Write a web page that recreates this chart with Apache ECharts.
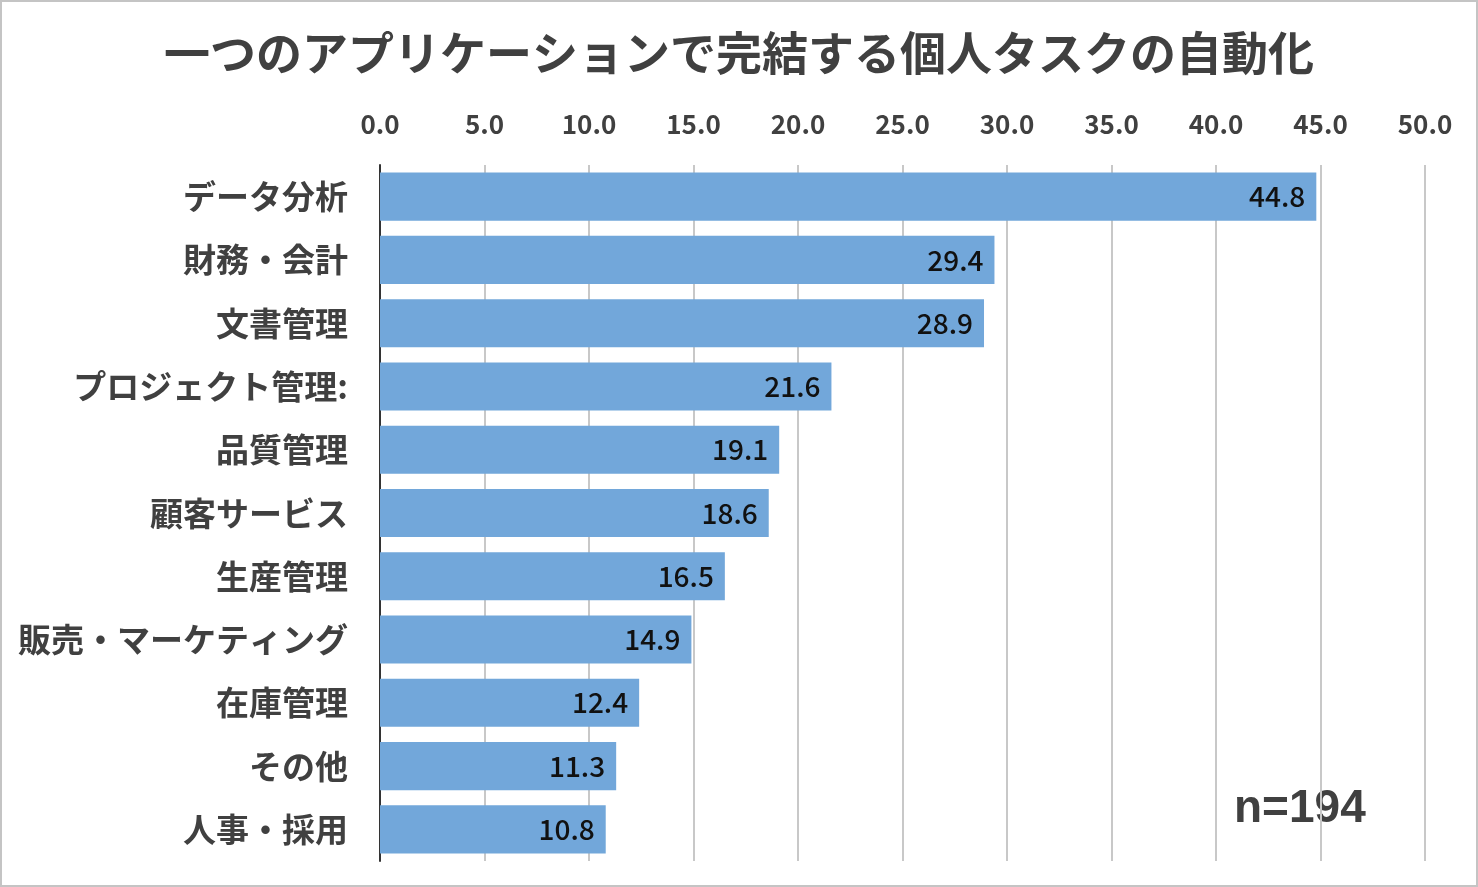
<!DOCTYPE html>
<html>
<head>
<meta charset="utf-8">
<script src="https://cdn.jsdelivr.net/npm/echarts@6/dist/echarts.min.js"></script>
<style>
html, body { margin: 0; padding: 0; background: #fff; }
#main { width: 1474px; height: 883px; border: 2px solid #c4c4c4; }
</style>
</head>
<body>
<div id="main"></div>
<script>
// categories from top to bottom
var categories = ['データ分析', '財務・会計', '文書管理', 'プロジェクト管理:', '品質管理', '顧客サービス', '生産管理', '販売・マーケティング', '在庫管理', 'その他', '人事・採用'];
var values = [44.8, 29.4, 28.9, 21.6, 19.1, 18.6, 16.5, 14.9, 12.4, 11.3, 10.8];
var titleText = '一つのアプリケーションで完結する個人タスクの自動化';
var sampleText = 'n=194';

var myChart = echarts.init(document.getElementById('main'));
var font = '"Noto Sans CJK JP", "Noto Sans", sans-serif';

var option = {
    animation: false,
    title: {
        text: titleText,
        left: 'center',
        top: 23,
        textStyle: { fontFamily: font, fontSize: 46, fontWeight: 'bold', color: '#404040' }
    },
    grid: { left: 378, right: 51, top: 163, bottom: 24, containLabel: false },
    xAxis: {
        type: 'value',
        position: 'top',
        min: 0,
        max: 50,
        interval: 5,
        axisLine: { show: false },
        axisTick: { show: false },
        splitLine: { lineStyle: { color: '#c8c8c8', width: 2 } },
        axisLabel: {
            margin: 28,
            fontFamily: font, fontSize: 26, fontWeight: 'bold', color: '#404040',
            formatter: function (v) { return v.toFixed(1); }
        }
    },
    yAxis: {
        type: 'category',
        inverse: true,
        data: categories,
        axisLine: { show: true, lineStyle: { color: '#333', width: 2 } },
        axisTick: { show: false },
        axisLabel: { margin: 32, fontFamily: font, fontSize: 33, fontWeight: 'bold', color: '#404040' }
    },
    series: [{
        type: 'bar',
        data: values,
        barCategoryGap: '24%',
        itemStyle: { color: '#72a7da' },
        label: {
            show: true,
            position: 'insideRight',
            distance: 11,
            fontFamily: font, fontSize: 28, fontWeight: 500, color: '#111',
            formatter: function (p) { return p.value.toFixed(1); }
        }
    }],
    graphic: [{
        type: 'text',
        left: 1232,
        top: 784,
        style: { text: sampleText, font: 'bold 46px "Liberation Sans", Arial, sans-serif', fill: '#404040' }
    }]
};
myChart.setOption(option);
</script>
</body>
</html>
